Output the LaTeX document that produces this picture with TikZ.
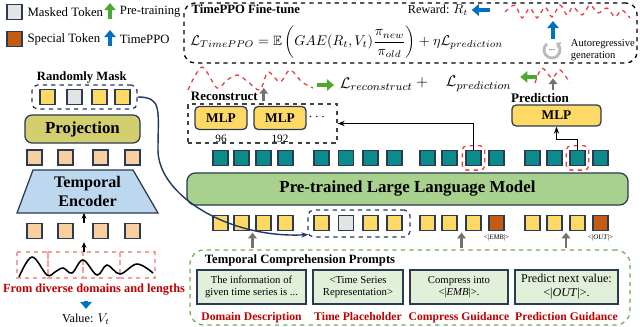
\documentclass[tikz,border=0pt]{standalone}
\usepackage{amsmath}
\usepackage{amssymb}
\usepackage{fontspec}
\setmainfont{Liberation Serif}
\usepackage{tikz}
\usetikzlibrary{positioning, arrows.meta, calc}
\usepackage{xcolor}

\definecolor{edgec}{HTML}{2B3A55}
\definecolor{tokyellow}{HTML}{FFD966}
\definecolor{tokgray}{HTML}{E4E4E4}
\definecolor{tokspecial}{HTML}{C55A11}
\definecolor{tokpeach}{HTML}{F9CFA0}
\definecolor{tokteal}{HTML}{0B8C8A}
\definecolor{projc}{HTML}{D3CF6F}
\definecolor{encc}{HTML}{BDD7EE}
\definecolor{llmc}{HTML}{A9D18E}
\definecolor{promptc}{HTML}{E2F0D9}
\definecolor{labred}{HTML}{C00000}
\definecolor{sqred}{HTML}{EE3B3B}
\definecolor{tsred}{HTML}{F4A0A0}
\definecolor{arrgreen}{HTML}{4EA72E}
\definecolor{arrblue}{HTML}{0070C0}
\definecolor{arrgray}{HTML}{767171}
\definecolor{navy}{HTML}{1F3864}
\definecolor{dashgreen}{HTML}{70AD47}

\newcommand{\fsz}[1]{\fontsize{#1}{#1}\selectfont}

\tikzset{
  tok/.style={draw=edgec, line width=0.9pt, minimum size=0.375cm, inner sep=0pt},
  ytok/.style={tok, fill=tokyellow},
  mtok/.style={tok, fill=tokgray},
  stok/.style={tok, fill=tokspecial},
  ptok/.style={tok, fill=tokpeach},
  ttok/.style={tok, fill=tokteal},
  mlpbox/.style={draw=edgec, fill=tokyellow, line width=0.9pt, rounded corners=3pt, font=\fsz{9.5}\bfseries},
  promptbox/.style={draw=edgec, fill=promptc, line width=0.9pt, minimum height=0.85cm, align=center, font=\fontsize{7.6}{8.8}\selectfont, inner sep=1pt},
  redlab/.style={text=labred, font=\fsz{8.3}\bfseries},
  head/.style={font=\fsz{9}\bfseries},
  sq/.style={draw=sqred, dashed, line width=0.9pt},
  fatarr/.style={line width=2.4pt, -{Triangle[width=8pt,length=5pt]}},
  greenarr/.style={fatarr, draw=arrgreen},
  bluearr/.style={fatarr, draw=arrblue},
  grayarr/.style={line width=2pt, draw=arrgray, -{Triangle[width=6pt,length=4pt]}},
  blkarr/.style={line width=0.9pt, -{Stealth[length=5pt]}},
  smallarr/.style={line width=0.9pt, -{Stealth[length=4pt, width=3.5pt]}},
}

\begin{document}
\begin{tikzpicture}[x=0.025cm, y=-0.025cm]
  \useasboundingbox[fill=white] (0,0) rectangle (640,327);

  % Legend
  \node[mtok] (lgmask) at (14.5,12) {};
  \node[right=0pt of lgmask, font=\fsz{9.1}] (lgmasktxt) {Masked Token};
  \node[stok] (lgspec) at (14.5,39) {};
  \node[right=0pt of lgspec, font=\fsz{9.1}] (lgspectxt) {Special Token};
  \draw[greenarr] (110,19) -- (110,3);
  \node[anchor=west, font=\fsz{9}] (lgpre) at (115,12) {Pre-training};
  \draw[bluearr] (110,46) -- (110,30);
  \node[anchor=west, font=\fsz{9}] (lgppo) at (115,39) {TimePPO};

  % Randomly mask
  \node[head, anchor=west] (masklab) at (32,77) {Randomly Mask};
  \node[draw=navy, dashed, line width=0.9pt, rounded corners=4pt, minimum width=2.625cm, minimum height=0.6cm] (maskbox) at (84.5,97) {};
  \foreach \n/\x/\s in {1/47.5/ytok, 2/74.5/mtok, 3/99.5/ytok, 4/122.5/ytok}
    \node[\s] (mk\n) at (\x,97) {};

  % Projection and encoder
  \node[draw=edgec, fill=projc, line width=0.9pt, rounded corners=5pt, minimum width=2.875cm, minimum height=0.7cm, font=\fsz{12}\bfseries] (proj) at (82.5,129) {Projection};
  \foreach \n/\x in {1/34.5, 2/65.5, 3/100.5, 4/132.5} {
    \node[ptok] (pa\n) at (\x,157.5) {};
    \node[ptok] (pb\n) at (\x,231) {};
  }
  \draw[draw=edgec, fill=encc, line width=0.9pt] (17,213) -- (33,170) -- (133,170) -- (158,213) -- cycle;
  \node[align=center, font=\fontsize{11.5}{14}\selectfont\bfseries] (enc) at (87.5,191.5) {Temporal\\Encoder};
  \coordinate (encbot) at (84,213);

  % Time series
  \foreach \a/\b in {17/48, 48/83, 83/120, 120/155}
    \draw[draw=tsred, dashed, line width=0.8pt] (\a,252) rectangle (\b,278);
  \draw[line width=1.1pt] plot[smooth, tension=0.6] coordinates {(19,277) (32,257) (47,275) (55,272) (63,268) (72,273) (83,260) (97,275) (107,265) (120,274) (137,264) (153,273)};
  \coordinate (tsmid) at (84,252);
  \draw[smallarr] (tsmid) -- ($(tsmid |- pb2.south)+(0,3)$);
  \draw[smallarr] (tsmid |- pb2.north) -- (encbot);
  \node[redlab, font=\fsz{8.8}\bfseries] (fromtxt) at (94,290) {From diverse domains and lengths};
  \node[font=\fsz{8.7}] (valtxt) at (86,319) {Value: $V_t$};
  \draw[bluearr] (fromtxt.south -| valtxt.north) -- (valtxt.north);

  % TimePPO fine-tune
  \node[draw, dashed, line width=0.9pt, rounded corners=8pt, minimum width=11.325cm, minimum height=1.5cm] (ppobox) at (410.5,33) {};
  \node[head, anchor=west, inner sep=1pt] (ppolab) at (190,9) {TimePPO Fine-tune};
  \node[anchor=west, font=\fsz{9.6}, inner sep=0pt] (ppoeq) at (190,42) {$\mathcal{L}_{TimePPO} = \mathbb{E}\left(GAE(R_t,V_t)\dfrac{\pi_{new}}{\pi_{old}}\right) + \eta\mathcal{L}_{prediction}$};
  \node[font=\fsz{8.7}, inner sep=1pt] (reward) at (438,10) {Reward: $R_t$};
  \draw[bluearr] ($(reward.east)+(20,0)$) -- ($(reward.east)+(2,0)$);
  \draw[sq] plot[smooth] coordinates {(505,12) (515,5) (522,18) (530,8) (537,18) (545,7) (552,17) (560,5) (567,15) (573,7) (582,15) (590,5) (598,13) (607,8) (615,17) (622,10) (630,18)};
  \coordinate (autoc) at (552,50);
  \draw[draw=gray!55, line width=2pt, -{Triangle[width=5pt,length=3pt]}] (autoc) ++(-130:8) arc[start angle=-130, end angle=-420, radius=8];
  \node[font=\fsz{6}] at (autoc) {...};
  \node[anchor=west, align=left, font=\fontsize{7.5}{8.5}\selectfont] (autotxt) at (566,50) {Autoregressive\\generation};
  \draw[bluearr] ($(autoc)+(1,-11)$) -- ($(autoc)+(1,-29)$);

  % Losses
  \draw[sq] plot[smooth] coordinates {(188,90) (202,67) (217,88) (227,80) (238,75) (248,82) (260,90) (268,72) (280,82) (290,70) (302,82) (313,88)};
  \node[anchor=west, font=\fsz{11}] (lrec) at (335,84) {$\mathcal{L}_{reconstruct}$};
  \node[font=\fsz{11}] (lplus) at (422,83) {$+$};
  \node[anchor=west, font=\fsz{11}] (lpred) at (441,84) {$\mathcal{L}_{prediction}$};
  \draw[greenarr] ($(lrec.west)+(-18,1)$) -- ($(lrec.west)+(-1,1)$);
  \draw[greenarr] ($(lpred.east)+(21,-7)$) -- ($(lpred.east)+(4,-7)$);
  \draw[sq] plot[smooth] coordinates {(535,83) (542,68) (552,78) (560,70) (570,83)};

  % Reconstruct heads
  \node[head, font=\fsz{9.2}\bfseries, anchor=west] (reclab) at (186,96) {Reconstruct};
  \draw[grayarr] ($(reclab.east)+(1,5)$) -- ++(0,-13);
  \node[draw=black!75, dashed, line width=0.9pt, minimum width=3.725cm, minimum height=0.975cm] (recbox) at (262.5,123.5) {};
  \node[mlpbox, minimum width=1.3cm, minimum height=0.575cm] (mlpa) at (221,118) {MLP};
  \node[mlpbox, minimum width=1.3cm, minimum height=0.575cm] (mlpb) at (280,118) {MLP};
  \node (mlpdots) at (318,117) {$\cdots$};
  \node[font=\fsz{8}, below=0pt of mlpa] (lena) {96};
  \node[font=\fsz{8}, below=0pt of mlpb] (lenb) {192};

  % Prediction head
  \node[head, font=\fsz{9.3}\bfseries] (predlab) at (540,98) {Prediction};
  \draw[grayarr] ($(predlab.north)+(13,2)$) -- ++(0,-12);
  \node[mlpbox, minimum width=2.225cm, minimum height=0.525cm] (mlpp) at (556.5,115.5) {MLP};

  % LLM output tokens
  \foreach \n/\x in {11/220.5, 12/241.5, 13/263.5, 14/285.5, 21/321.5, 22/346, 23/370.5, 24/394.5,
                     31/427.5, 32/449.5, 33/473.5, 34/496.5, 41/532.5, 42/554.5, 43/577.5, 44/600.5}
    \node[ttok] (t\n) at (\x,158) {};
  \draw[sq, rounded corners=3pt] ($(t33.south west)+(-3,4)$) rectangle ($(t33.north east)+(3,-4)$);
  \draw[sq, rounded corners=3pt] ($(t43.south west)+(-3,4)$) rectangle ($(t43.north east)+(3,-4)$);
  \draw[blkarr] (t33.north) |- (recbox.east);
  \draw[blkarr] (t43.north) -- ++(0,-10) -| (mlpp.south);

  % LLM
  \node[draw=edgec, fill=llmc, line width=0.9pt, rounded corners=6pt, minimum width=11.025cm, minimum height=0.8cm, font=\fsz{12}\bfseries] (llm) at (407.5,189) {Pre-trained Large Language Model};

  % LLM input tokens
  \node[draw=navy, dashed, line width=0.9pt, rounded corners=4pt, minimum width=2.55cm, minimum height=0.675cm] (g2box) at (359,223.5) {};
  \foreach \n/\x/\s in {11/220.5/ytok, 12/241.5/ytok, 13/263.5/ytok, 14/285.5/ytok, 21/321.5/ytok, 22/346/mtok, 23/370.5/ytok, 24/394.5/ytok,
                        31/427.5/ytok, 32/449.5/ytok, 33/473.5/ytok, 34/496.5/stok, 41/532.5/ytok, 42/554.5/ytok, 43/577.5/ytok, 44/600.5/stok}
    \node[\s] (b\n) at (\x,223) {};
  \node[font=\fsz{5}, inner sep=1pt, below=1pt of b34] (emblab) {<|\textit{EMB}|>};
  \node[font=\fsz{5}, inner sep=1pt, below=1pt of b44] (outlab) {<|\textit{OUT}|>};
  \coordinate (bend) at (158,150);
  \draw[navy, line width=1pt, -{Stealth[length=5pt]}] (maskbox.east) .. controls +(25,0) and +(0,-40) .. (bend) .. controls +(0,45) and +(-80,4) .. ($(g2box.south west)+(1,-3)$);

  % Prompts
  \node[draw=dashgreen, dashed, line width=0.9pt, rounded corners=10pt, minimum width=11cm, minimum height=1.875cm] (prompts) at (410,287.5) {};
  \node[head] (prtitle) at (300,260) {Temporal Comprehension Prompts};
  \node[promptbox, minimum width=2.725cm] (pd1) at (251.5,287) {The information of\\given time series is ...};
  \node[promptbox, minimum width=2.25cm] (pd2) at (358,287) {<Time Series\\Representation>};
  \node[promptbox, minimum width=2.45cm] (pd3) at (459,287) {Compress into\\<|\textit{EMB}|>.};
  \node[promptbox, minimum width=2.575cm, font=\fontsize{8.6}{10}\selectfont] (pd4) at (566.5,287) {Predict next value:\\<|\textit{OUT}|>.};
  \node[redlab, below=2pt of pd1] (rl1) {Domain Description};
  \node[redlab, below=2pt of pd2] (rl2) {Time Placeholder};
  \node[redlab, below=2pt of pd3] (rl3) {Compress Guidance};
  \node[redlab, below=2pt of pd4] (rl4) {Prediction Guidance};
  \foreach \a/\b in {b12/b13, b32/b33, b42/b43} {
    \coordinate (m\a) at ($(\a.south)!0.5!(\b.south)$);
    \draw[grayarr] ($(m\a |- prompts.north)+(0,-1)$) -- ($(m\a)+(0,1.5)$);
  }

\end{tikzpicture}
\end{document}
